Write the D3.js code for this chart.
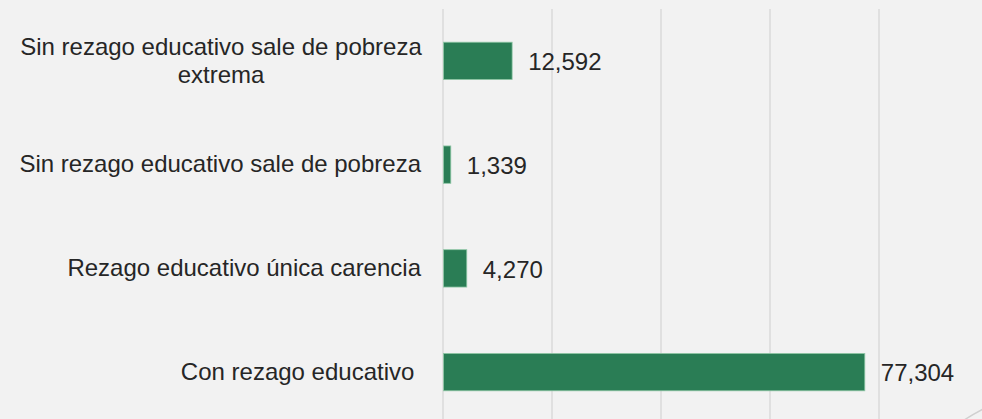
<!DOCTYPE html>
<html>
<head>
<meta charset="utf-8">
<script src="https://cdn.jsdelivr.net/npm/d3@7/dist/d3.min.js"></script>
<style>
  html, body { margin: 0; padding: 0; background: #f2f2f2; }
  svg { display: block; }
  text { font-family: "Liberation Sans", Arial, sans-serif; fill: #262626; }
</style>
</head>
<body>
<div id="chart"></div>
<script>
////////////////////
// DATA
var categories = [
  ["Sin rezago educativo sale de pobreza", "extrema"],
  ["Sin rezago educativo sale de pobreza"],
  ["Rezago educativo única carencia"],
  ["Con rezago educativo "]
];
var values = [12592, 1339, 4270, 77304];
var gridTicks = [0, 20000, 40000, 60000, 80000];

////////////////////
// VARIABLES
var w = 982;
var h = 419;
var plotLeft = 443, plotRight = 879;
var plotTop = 9, plotBottom = 424;

var svg = d3.select("#chart")
  .append("svg")
  .attr("width", w)
  .attr("height", h);

svg.append("rect")
  .attr("width", w)
  .attr("height", h)
  .attr("fill", "#f2f2f2");

var x = d3.scaleLinear()
  .domain([0, 80000])
  .range([plotLeft, plotRight]);

var y = d3.scaleBand()
  .domain(d3.range(values.length))
  .range([plotTop, plotBottom])
  .paddingInner(0.64)
  .paddingOuter(0.32);

// gridlines
svg.append("g")
  .selectAll("line")
  .data(gridTicks)
  .enter().append("line")
  .attr("x1", function(d) { return x(d); })
  .attr("x2", function(d) { return x(d); })
  .attr("y1", plotTop)
  .attr("y2", h)
  .attr("stroke", "#d9d9d9")
  .attr("stroke-width", 1.4);

// bars
svg.append("g")
  .selectAll("rect")
  .data(values)
  .enter().append("rect")
  .attr("x", x(0) + 0.5)
  .attr("y", function(d, i) { return y(i); })
  .attr("width", function(d) { return x(d) - x(0); })
  .attr("height", y.bandwidth())
  .attr("fill", "#2a7d55")
  .attr("stroke", "#8fc7a6")
  .attr("stroke-width", 0.8);

// value labels
svg.append("g")
  .selectAll("text")
  .data(values)
  .enter().append("text")
  .attr("x", function(d) { return x(d) + 16.5; })
  .attr("y", function(d, i) { return y(i) + y.bandwidth() / 2 + 9.3; })
  .style("font-size", "24px")
  .text(function(d) { return d3.format(",")(d); });

// category labels
var labels = svg.append("g")
  .selectAll("text")
  .data(categories)
  .enter().append("text")
  .style("font-size", "24px")
  .style("white-space", "pre")
  .attr("text-anchor", function(d) { return d.length > 1 ? "middle" : "end"; })
  .attr("transform", function(d, i) {
    var cy = y(i) + y.bandwidth() / 2;
    var lx = d.length > 1 ? 221 : 421;
    return "translate(" + lx + "," + cy + ")";
  });

labels.selectAll("tspan")
  .data(function(d) { return d.map(function(t, j) { return { t: t, j: j, n: d.length }; }); })
  .enter().append("tspan")
  .attr("x", 0)
  .attr("y", function(d) { return (d.j - (d.n - 1) / 2) * 27.7 + 7.8; })
  .text(function(d) { return d.t; });

// corner decoration
svg.append("path")
  .attr("d", "M960,423 Q971,415 985,408")
  .attr("fill", "none")
  .attr("stroke", "#d0d0d0")
  .attr("stroke-width", 1.5);
</script>
</body>
</html>
